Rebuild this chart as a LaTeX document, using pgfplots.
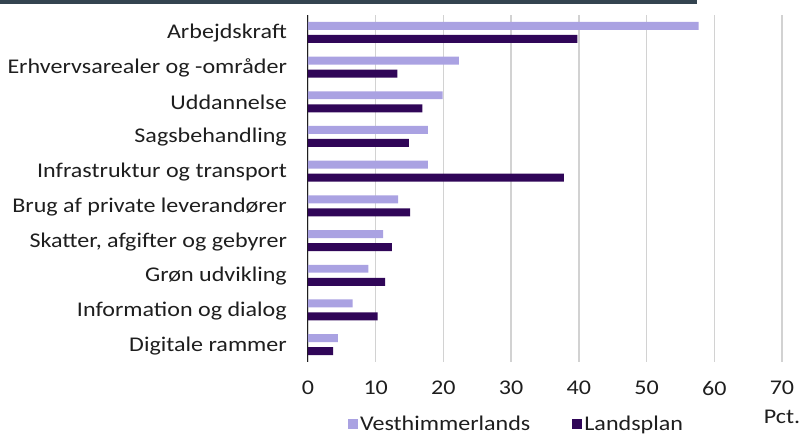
\documentclass[border=0pt]{standalone}
\usepackage{fontspec}
\setmainfont{Carlito}[FakeStretch=1.15]
\usepackage{pgfplots}
\pgfplotsset{compat=1.18}
\definecolor{vest}{RGB}{170,162,226}
\definecolor{land}{RGB}{48,6,88}
\definecolor{band}{RGB}{52,68,80}
\definecolor{txt}{RGB}{30,30,30}
\definecolor{gridc}{RGB}{210,210,210}
\begin{document}
\fontsize{21}{25}\selectfont
\begin{tikzpicture}
\path[use as bounding box] (-308bp,-75bp) rectangle (494bp,362bp);
\fill[band] (-308bp,358bp) rectangle (389bp,362bp);
\begin{axis}[
  at={(0,0)}, anchor=south west,
  scale only axis, width=474bp, height=347bp,
  xmin=0, xmax=70, ymin=-0.5, ymax=9.5,
  y dir=reverse,
  xbar, bar width=0.23,
  xtick={0,10,...,70},
  ytick={0,...,9},
  yticklabels={Arbejdskraft,Erhvervsarealer og -områder,Uddannelse,Sagsbehandling,Infrastruktur og transport,Brug af private leverandører,{Skatter, afgifter og gebyrer},Grøn udvikling,Information og dialog,Digitale rammer},
  major tick length=0pt,
  xmajorgrids, grid style={gridc, line width=1.3bp},
  axis lines*=left,
  x axis line style={draw=none},
  y axis line style={draw=txt, line width=1bp},
  /pgf/number format/assume math mode=true,
  tick label style={font=\fontsize{21}{25}\selectfont, text=txt},
  yticklabel style={xshift=-14bp, yshift=-1bp},
  xticklabel style={yshift=-12bp},
  xlabel={Pct.}, xlabel style={at={(rel axis cs:1,0)}, anchor=north, yshift=-41bp, font=\fontsize{21}{25}\selectfont, text=txt},
  legend columns=2,
  legend style={draw=none, fill=none, at={(rel axis cs:0.44,-0.18)}, anchor=center, font=\fontsize{21}{25}\selectfont, text=txt, /tikz/every even column/.append style={column sep=40bp}},
  legend image code/.code={\fill (0bp,-5bp) rectangle (10bp,5bp);},
]
\addplot[fill=vest, draw=none, bar shift=-0.1875] coordinates {
 (57.7,0) (22.3,1) (19.9,2) (17.7,3) (17.7,4) (13.3,5) (11.1,6) (8.9,7) (6.6,8) (4.4,9)};
\addplot[fill=land, draw=none, bar shift=0.1875] coordinates {
 (39.8,0) (13.2,1) (16.9,2) (14.9,3) (37.8,4) (15.1,5) (12.4,6) (11.4,7) (10.3,8) (3.7,9)};
\legend{Vesthimmerlands,Landsplan}
\end{axis}
\end{tikzpicture}
\end{document}
